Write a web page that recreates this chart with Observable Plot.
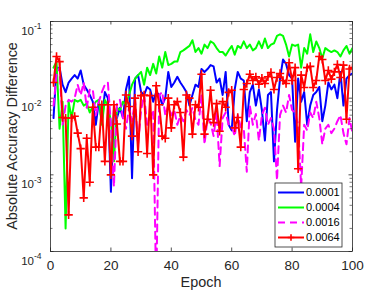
<!DOCTYPE html>
<html><head><meta charset="utf-8">
<script src="https://cdn.jsdelivr.net/npm/d3@7"></script>
<script src="https://cdn.jsdelivr.net/npm/@observablehq/plot@0.6"></script>
<style>
html,body{margin:0;padding:0;background:#fff;}
svg{font-family:"Liberation Sans",Arial,sans-serif;}
</style></head>
<body><div id="chart"></div>
<script>
const seriesNames = ["0.0001", "0.0004", "0.0016", "0.0064"];
const seriesColors = ["#0000ff", "#00ff00", "#ff00ff", "#ff0000"];
const epochs = d3.range(1, 101);
const xTicks = [0, 20, 40, 60, 80, 100];
const yTicks = [1e-4, 1e-3, 1e-2, 1e-1];

const lr0001 = [0.0055,0.025,0.025,0.015,0.012,0.016,0.018,0.02,0.018,0.023,
0.015,0.013,0.011,0.009,0.0045,0.009,0.005,0.012,0.01,0.0006,
0.007,0.0055,0.0075,0.0055,0.013,0.019,0.0009,0.018,0.02,0.012,
0.011,0.014,0.013,0.009,0.012,0.011,0.0082,0.01,0.022,0.014,
0.016,0.019,0.016,0.014,0.012,0.008,0.011,0.015,0.014,0.024,
0.022,0.024,0.027,0.026,0.016,0.018,0.011,0.022,0.0045,0.0038,
0.013,0.022,0.018,0.017,0.005,0.012,0.015,0.008,0.013,0.007,
0.0028,0.011,0.012,0.0015,0.007,0.018,0.032,0.028,0.02,0.018,
0.0027,0.018,0.009,0.012,0.0045,0.008,0.011,0.012,0.014,0.005,
0.008,0.016,0.013,0.015,0.01,0.022,0.008,0.018,0.02,0.021];

const lr0004 = [0.025,0.03,0.004,0.009,0.0002,0.009,0.0055,0.0095,0.009,0.0095,
0.008,0.0085,0.0065,0.0078,0.009,0.0095,0.0045,0.0095,0.008,0.005,
0.0015,0.0075,0.007,0.009,0.0082,0.011,0.015,0.018,0.02,0.022,
0.015,0.025,0.02,0.028,0.021,0.035,0.025,0.04,0.027,0.028,
0.03,0.03,0.04,0.042,0.045,0.048,0.057,0.04,0.045,0.038,
0.05,0.045,0.055,0.052,0.045,0.04,0.04,0.036,0.042,0.048,
0.037,0.048,0.045,0.055,0.045,0.05,0.042,0.045,0.055,0.045,
0.06,0.045,0.05,0.052,0.065,0.068,0.065,0.05,0.035,0.05,
0.048,0.05,0.025,0.045,0.038,0.068,0.04,0.055,0.045,0.033,
0.045,0.042,0.04,0.042,0.04,0.035,0.042,0.048,0.038,0.045];

const lr0016 = [0.008,0.02,0.025,0.0045,0.008,0.0095,0.009,0.01,0.015,0.011,
0.016,0.0075,0.013,0.013,0.006,0.009,0.012,0.015,0.016,0.0045,
0.0007,0.0085,0.0095,0.0055,0.004,0.0075,0.005,0.0095,0.0025,0.007,
0.011,0.0045,0.0055,0.007,0.00003,0.011,0.012,0.006,0.008,0.006,
0.007,0.0045,0.006,0.005,0.007,0.006,0.0075,0.0052,0.0045,0.011,
0.0025,0.0055,0.0048,0.0032,0.0065,0.0013,0.0055,0.0065,0.0045,0.0043,
0.0032,0.006,0.0042,0.004,0.0011,0.008,0.0045,0.0062,0.0028,0.006,
0.0075,0.0045,0.0055,0.004,0.00085,0.006,0.008,0.0065,0.011,0.007,
0.0065,0.0045,0.0007,0.0045,0.0038,0.0065,0.0055,0.009,0.0055,0.0025,
0.004,0.0045,0.0035,0.004,0.005,0.006,0.0035,0.0025,0.0055,0.0035];

const lr0064 = [0.016,0.035,0.030,0.0056,0.0055,0.0003,0.0055,0.0058,0.0035,0.0022,
0.0005,0.0030,0.0008,0.0076,0.0023,0.0023,0.0082,0.0015,0.0082,0.0010,
0.0082,0.0046,0.0015,0.0015,0.011,0.0078,0.0032,0.010,0.0020,0.0108,
0.011,0.0019,0.0108,0.0010,0.0145,0.0082,0.0032,0.0030,0.010,0.0041,
0.0082,0.009,0.0065,0.0017,0.011,0.010,0.0034,0.0082,0.0076,0.0205,
0.0034,0.0053,0.0127,0.0048,0.0085,0.0037,0.009,0.0076,0.0119,0.0127,
0.0041,0.0056,0.0023,0.013,0.0155,0.0205,0.017,0.019,0.0152,0.0183,
0.0155,0.019,0.0216,0.013,0.0186,0.021,0.017,0.0155,0.029,0.017,
0.025,0.0012,0.020,0.0138,0.025,0.026,0.0138,0.017,0.035,0.032,
0.017,0.023,0.0177,0.022,0.0275,0.0186,0.027,0.0053,0.024,0.025];

const allSeries = [lr0001, lr0004, lr0016, lr0064];
const data = [];
allSeries.forEach((arr, si) => arr.forEach((v, i) => data.push({epoch: epochs[i], value: v, series: seriesNames[si]})));
const bySeries = name => data.filter(d => d.series === name);

const W = 388, H = 291, mL = 50, mR = 36, mT = 21, mB = 40;
const fw = W - mL - mR, fh = H - mT - mB;
const axisColor = "#262626";
const minorTicks = [];
for (let k = -4; k < -1; k++) for (let m = 2; m <= 9; m++) minorTicks.push(m * Math.pow(10, k));

const chart = Plot.plot({
  width: W, height: H,
  marginLeft: mL, marginRight: mR, marginTop: mT, marginBottom: mB,
  style: {fontFamily: "Liberation Sans, Arial, sans-serif", background: "#fff"},
  x: {domain: [0, 100], label: null},
  y: {type: "log", domain: [1e-4, 1e-1], label: null},
  marks: [
    Plot.line(bySeries("0.0001"), {x: "epoch", y: "value", stroke: seriesColors[0], strokeWidth: 2, clip: true}),
    Plot.line(bySeries("0.0004"), {x: "epoch", y: "value", stroke: seriesColors[1], strokeWidth: 2, clip: true}),
    Plot.line(bySeries("0.0016"), {x: "epoch", y: "value", stroke: seriesColors[2], strokeWidth: 2, strokeDasharray: "7,5", clip: true}),
    Plot.line(bySeries("0.0064"), {x: "epoch", y: "value", stroke: seriesColors[3], strokeWidth: 2, clip: true}),
    Plot.dot(bySeries("0.0064"), {x: "epoch", y: "value", stroke: seriesColors[3], symbol: "plus", r: 2.8, strokeWidth: 1.6, clip: true}),
    Plot.frame({stroke: axisColor, strokeWidth: 0.8}),
    Plot.tickX(xTicks, {x: d => d, stroke: axisColor, strokeWidth: 0.8, insetTop: fh - 3.5}),
    Plot.tickX(xTicks, {x: d => d, stroke: axisColor, strokeWidth: 0.8, insetBottom: fh - 3.5}),
    Plot.tickY(yTicks, {y: d => d, stroke: axisColor, strokeWidth: 0.8, insetRight: fw - 3.5}),
    Plot.tickY(yTicks, {y: d => d, stroke: axisColor, strokeWidth: 0.8, insetLeft: fw - 3.5}),
    Plot.tickY(minorTicks, {y: d => d, stroke: axisColor, strokeWidth: 0.6, insetRight: fw - 2.5}),
    Plot.tickY(minorTicks, {y: d => d, stroke: axisColor, strokeWidth: 0.6, insetLeft: fw - 2.5}),
    Plot.axisX({ticks: xTicks, tickSize: 0, tickPadding: 9, fontSize: 13.5, color: axisColor, label: null}),
    Plot.axisY({ticks: yTicks, tickSize: 0, tickPadding: 9, fontSize: 11.5, color: axisColor, label: null, tickFormat: d => String(Math.round(Math.log10(d)))})
  ]
});
document.getElementById("chart").appendChild(chart);

const svg = d3.select(chart);
// superscript exponents on y tick labels
svg.selectAll('g[aria-label="y-axis tick label"] text').each(function() {
  const t = d3.select(this);
  const e = t.text();
  t.text(null);
  t.attr("dy", null);
  t.append("tspan").attr("dy", 9.5).text("10");
  t.append("tspan").attr("dy", -5.5).attr("font-size", 8.5).text(e);
});

// axis titles
svg.append("text").attr("x", mL + fw / 2).attr("y", 287).attr("text-anchor", "middle")
  .attr("font-size", 14.4).attr("fill", axisColor).text("Epoch");
svg.append("text").attr("transform", `translate(17,${mT + fh / 2}) rotate(-90)`).attr("text-anchor", "middle")
  .attr("font-size", 14.4).attr("fill", axisColor).text("Absolute Accuracy Difference");

// legend
const lg = svg.append("g").attr("font-size", 11).attr("text-anchor", "start");
const lx = 275, ly = 183, lw = 67, lh = 64;
lg.append("rect").attr("x", lx).attr("y", ly).attr("width", lw).attr("height", lh)
  .attr("fill", "#fff").attr("stroke", axisColor).attr("stroke-width", 0.8);
seriesNames.forEach((name, i) => {
  const yy = ly + 9.5 + i * 15;
  lg.append("line").attr("x1", lx + 3).attr("x2", lx + 29).attr("y1", yy).attr("y2", yy)
    .attr("stroke", seriesColors[i]).attr("stroke-width", 2)
    .attr("stroke-dasharray", i === 2 ? "7,5" : null);
  if (i === 3) {
    lg.append("path").attr("d", `M${lx + 16 - 3.3},${yy}h6.6M${lx + 16},${yy - 3.3}v6.6`)
      .attr("stroke", seriesColors[i]).attr("stroke-width", 1.6);
  }
  lg.append("text").attr("x", lx + 31).attr("y", yy).attr("dy", "0.35em").attr("text-anchor", "start").attr("fill", "#000").text(name);
});
</script></body></html>
